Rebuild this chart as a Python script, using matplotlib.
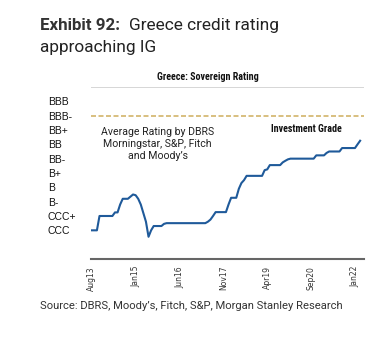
import numpy as np
import matplotlib
matplotlib.use('Agg')
import matplotlib.pyplot as plt
from matplotlib import font_manager

# monthly average rating, 0 = CCC ... 9 = BBB (Aug13 .. Apr22)
rating = [0.0, 0.0, 0.0, 1.0, 1.0, 1.0, 1.0, 1.0, 1.0, 1.25,
          1.25, 1.8, 2.2, 2.2, 2.2, 2.35, 2.5, 2.45, 2.2, 1.8,
          1.2, 0.6, -0.45, 0.0, 0.3, 0.3, 0.3, 0.3, 0.45, 0.5,
          0.5, 0.5, 0.5, 0.5, 0.5, 0.5, 0.5, 0.5, 0.5, 0.5,
          0.5, 0.5, 0.5, 0.5, 0.5, 0.6, 0.75, 1.0, 1.27, 1.27,
          1.27, 1.27, 1.27, 1.8, 2.27, 2.27, 2.27, 2.9, 3.3, 3.5,
          3.8, 3.8, 3.8, 3.8, 3.8, 3.8, 3.8, 4.2, 4.25, 4.55,
          4.55, 4.55, 4.55, 4.55, 4.74, 4.85, 4.95, 5.0, 5.0, 5.0,
          5.0, 5.0, 5.0, 5.0, 5.0, 5.0, 5.0, 5.23, 5.23, 5.23,
          5.23, 5.4, 5.5, 5.5, 5.5, 5.5, 5.5, 5.74, 5.74, 5.74,
          5.74, 5.74, 5.74, 6.0, 6.25]
x = np.arange(len(rating))

rating_labels = ['CCC', 'CCC+', 'B-', 'B', 'B+', 'BB-', 'BB', 'BB+', 'BBB-', 'BBB']
rating_pos = list(range(len(rating_labels)))
grid_vals = [0, 2, 4, 6, 10]
ig_level = 8
tick_pos = [0, 17, 34, 51, 68, 85, 102]
tick_labels = ['Aug13', 'Jan15', 'Jun16', 'Nov17', 'Apr19', 'Sep20', 'Jan22']

# condensed bold font if there is one
narrow = 'Roboto'
for name in ['Roboto Condensed', 'Liberation Sans Narrow']:
    try:
        font_manager.findfont(font_manager.FontProperties(family=name), fallback_to_default=False)
        narrow = name
        break
    except ValueError:
        pass
narrow_size = 7.2 if narrow != 'Roboto' else 6.2

fig = plt.figure(figsize=(3.81, 3.41), dpi=100)
ax = fig.add_axes([0.2388, 0.2405, 0.7166, 0.5044])

ax.plot(x, rating, color='#1f5a9a', lw=1.5)
ax.axhline(ig_level, color='#d2b46a', lw=1.2, ls=(0, (3, 1.5)))

ax.set_ylim(-2, 10)
ax.set_xlim(-0.3, 105.5)

ax.set_yticks(rating_pos)
ax.set_yticklabels(rating_labels, family='Liberation Sans', fontsize=7.5, color='#111111')
ax.set_yticks(grid_vals, minor=True)
ax.tick_params(axis='y', which='both', length=0, pad=31)
for lab in ax.get_yticklabels():
    lab.set_horizontalalignment('left')
ax.grid(False)
ax.grid(True, which='minor', axis='y', color='#cfcfcf', lw=1.2)

ax.set_xticks(tick_pos)
ax.set_xticklabels(tick_labels)
ax.tick_params(axis='x', length=0, pad=5, labelsize=5.5, labelcolor='#333333',
               labelrotation=90)

for s in ['left', 'right', 'top']:
    ax.spines[s].set_visible(False)
ax.spines['bottom'].set_color('#666666')
ax.spines['bottom'].set_linewidth(1.5)

ax.text(0.244, 0.666, 'Average Rating by DBRS\nMorningstar, S&P, Fitch\nand Moody\u2019s',
        transform=ax.transAxes, ha='center', va='center', fontsize=7.6,
        family='Roboto', color='#222222', linespacing=1.25)
ax.text(0.79, 0.756, 'Investment Grade', transform=ax.transAxes, ha='center',
        va='center', fontsize=narrow_size, family=narrow,
        fontweight='bold', color='#111111')

fig.text(208 / 381, 1 - 77 / 341, 'Greece: Sovereign Rating', ha='center', va='center',
         fontsize=narrow_size, family=narrow, fontweight='bold', color='#111111')

t1 = fig.text(40 / 381, 1 - 30 / 341, 'Exhibit 92:', ha='left', va='baseline',
              fontsize=12.2, family='Roboto', fontweight='bold', color='#333333')
fig.canvas.draw()
bb = t1.get_window_extent()
fig.text((bb.x1 + 9) / 381, 1 - 30 / 341, 'Greece credit rating', ha='left',
         va='baseline', fontsize=12.4, family='Roboto', color='#222222')
fig.text(40 / 381, 1 - 52 / 341, 'approaching IG', ha='left', va='baseline',
         fontsize=12.4, family='Roboto', color='#222222')

fig.text(40 / 381, 1 - 309 / 341, 'Source: DBRS, Moody\u2019s, Fitch, S&P, Morgan Stanley Research',
         ha='left', va='baseline', fontsize=8.1, family='Roboto', color='#333333')

fig.savefig('out.png', dpi=100)
